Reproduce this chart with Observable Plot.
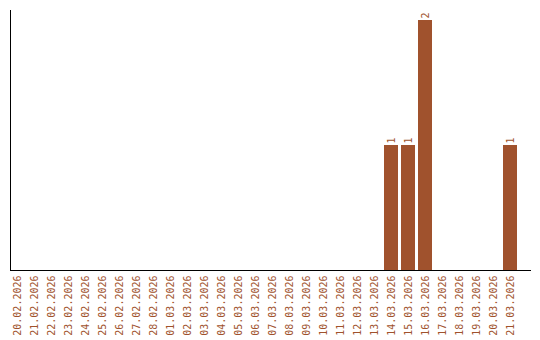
<!DOCTYPE html>
<html>
<head>
<meta charset="utf-8">
<script src="https://cdn.jsdelivr.net/npm/d3@7"></script>
<script src="https://cdn.jsdelivr.net/npm/@observablehq/plot@0.6"></script>
<style>
  html, body { margin: 0; padding: 0; background: #fff; }
</style>
</head>
<body>
<div id="chart"></div>
<script>
const dates = [
  "20.02.2026","21.02.2026","22.02.2026","23.02.2026","24.02.2026","25.02.2026",
  "26.02.2026","27.02.2026","28.02.2026","01.03.2026","02.03.2026","03.03.2026",
  "04.03.2026","05.03.2026","06.03.2026","07.03.2026","08.03.2026","09.03.2026",
  "10.03.2026","11.03.2026","12.03.2026","13.03.2026","14.03.2026","15.03.2026",
  "16.03.2026","17.03.2026","18.03.2026","19.03.2026","20.03.2026","21.03.2026"
];
const counts = [
  0,0,0,0,0,0,
  0,0,0,0,0,0,
  0,0,0,0,0,0,
  0,0,0,0,1,1,
  2,0,0,0,0,1
];
const barColor = "#a0522d";

const data = dates.map((d, i) => ({date: d, value: counts[i]}));

const chart = Plot.plot({
  width: 540,
  height: 340,
  marginLeft: 10,
  marginRight: 10,
  marginTop: 10,
  marginBottom: 70,
  style: {fontFamily: "'DejaVu Sans Mono', monospace", fontSize: "10px", background: "#fff"},
  x: {domain: dates, range: [10, 517], paddingInner: 3 / 17, paddingOuter: 0, round: false, label: null},
  y: {domain: [0, 2], range: [270, 20], label: null, axis: null},
  marks: [
    Plot.barY(data.filter(d => d.value > 0), {x: "date", y: "value", fill: barColor}),
    Plot.text(data.filter(d => d.value > 0), {
      x: "date", y: "value", text: d => String(d.value),
      rotate: -90, textAnchor: "start", dy: -2, fill: barColor
    }),
    Plot.axisX({tickRotate: -90, tickSize: 0, tickPadding: 5, fill: barColor, fontSize: 10, label: null}),
    Plot.frame({anchor: "left", stroke: "#000", shapeRendering: "crispEdges"}),
    Plot.frame({anchor: "bottom", stroke: "#000", shapeRendering: "crispEdges"})
  ]
});
document.getElementById("chart").appendChild(chart);
</script>
</body>
</html>
